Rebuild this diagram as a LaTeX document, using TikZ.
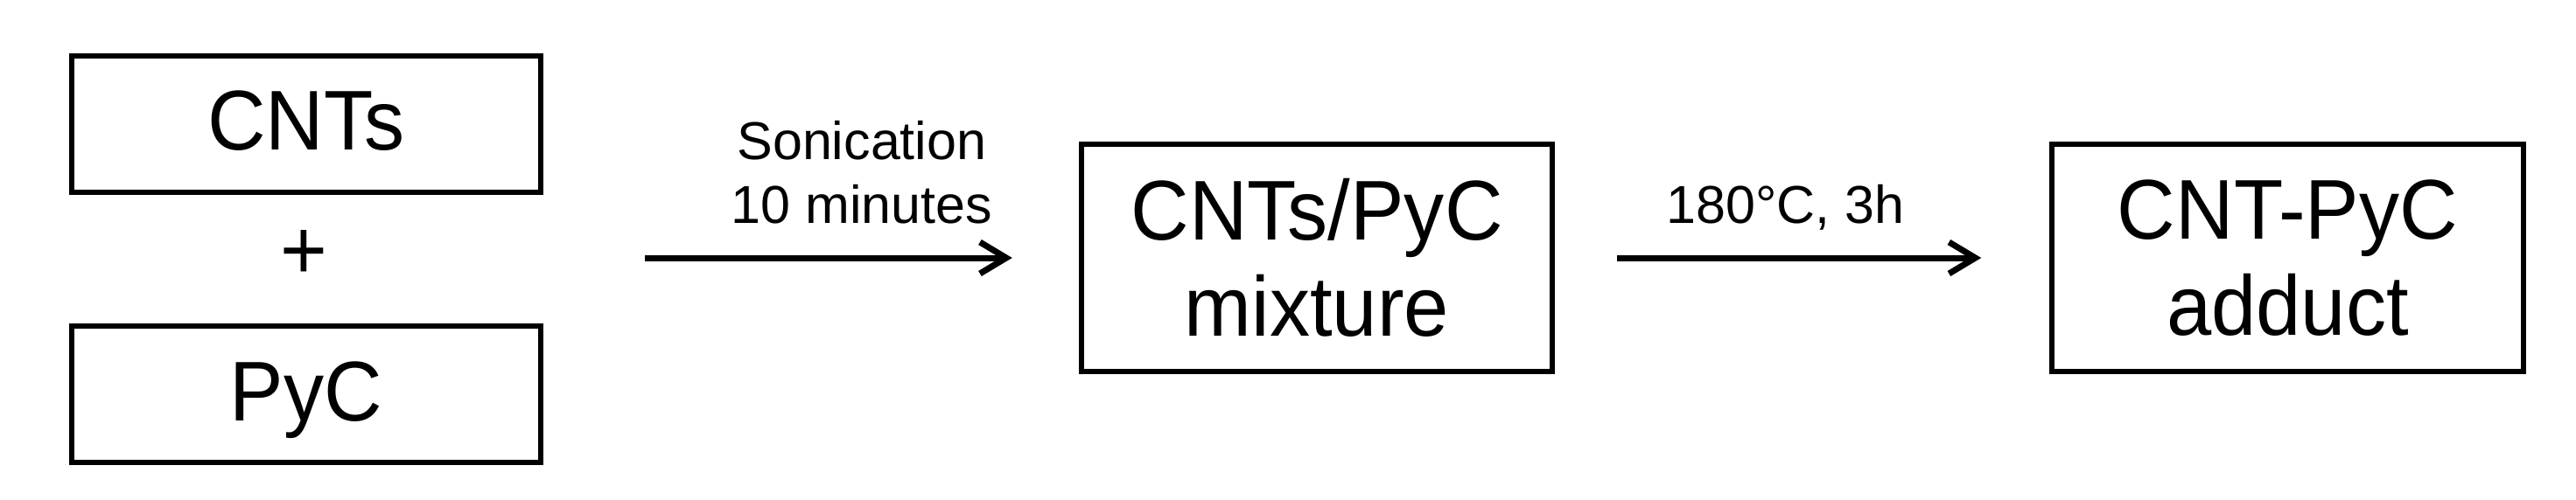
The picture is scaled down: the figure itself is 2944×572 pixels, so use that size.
\documentclass[tikz,border=0pt]{standalone}
\usepackage{fontspec}
\setmainfont{Liberation Sans}
\newfontfamily\bigfont[FakeStretch=0.95]{Liberation Sans}
\usetikzlibrary{arrows.meta}
\begin{document}
\begin{tikzpicture}[x=1pt,y=-1pt,
  boxnode/.style={draw, line width=6pt, align=center, inner sep=0pt,
    font=\bigfont\fontsize{97}{110}\selectfont},
  onebox/.style={boxnode, text height=70pt, text depth=10pt,
    minimum width=536.5pt, minimum height=156pt},
  twobox/.style={boxnode, minimum width=538.5pt, minimum height=260pt},
  arr/.style={line width=7pt, -{Straight Barb[length=30pt,width=36pt,line width=7pt]}},
  lbl/.style={above=36pt, inner sep=0pt, text depth=0pt, align=center,
    font=\fontsize{61}{73}\selectfont}]
\useasboundingbox (0,0) rectangle (2944,572);
\node[onebox] (cnt) at (350,142) {CNTs};
\node[onebox] (pyc) at (350,451) {PyC};
\node[inner sep=0pt, font=\bigfont\fontsize{97}{110}\selectfont] (plus) at (347,292) {+};
\node[twobox] (mix) at (1505,295) {CNTs/PyC\\mixture};
\node[twobox] (add) at (2614.5,295) {CNT-PyC\\adduct};
\coordinate (s1) at (737,295);
\draw[arr, shorten >=76pt] (s1) -- node[lbl] {Sonication\\10 minutes} (mix.west);
\draw[arr, shorten <=71pt, shorten >=78pt] (mix.east) -- node[lbl, xshift=-19pt] {180°C, 3h} (add.west);
\end{tikzpicture}
\end{document}
